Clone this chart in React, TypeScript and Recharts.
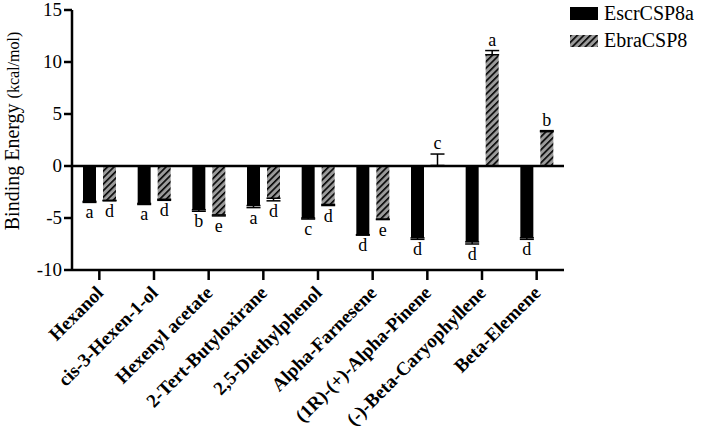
import React from 'react';
import { BarChart, Bar, XAxis, YAxis, ReferenceLine, ErrorBar, LabelList } from 'recharts';

const categories = [
  'Hexanol',
  'cis-3-Hexen-1-ol',
  'Hexenyl acetate',
  '2-Tert-Butyloxirane',
  '2,5-Diethylphenol',
  'Alpha-Farnesene',
  '(1R)-(+)-Alpha-Pinene',
  '(-)-Beta-Caryophyllene',
  'Beta-Elemene',
];
const escrValues = [-3.4, -3.6, -4.2, -3.8, -5.0, -6.6, -6.9, -7.3, -6.9];
const escrErrors = [0.1, 0.1, 0.15, 0.2, 0.1, 0.05, 0.15, 0.2, 0.15];
const escrLetters = ['a', 'a', 'b', 'a', 'c', 'd', 'd', 'd', 'd'];
const ebraValues = [-3.3, -3.2, -4.7, -3.1, -3.7, -5.1, 0.05, 10.7, 3.3];
const ebraErrors = [0.05, 0.1, 0.1, 0.25, 0.1, 0.05, 1.1, 0.4, 0.1];
const ebraLetters = ['d', 'd', 'e', 'd', 'd', 'e', 'c', 'a', 'b'];
const yTicks = [-10, -5, 0, 5, 10, 15];

const FONT = '"Liberation Serif", "Times New Roman", serif';
const Y_MIN = -10;
const Y_MAX = 15;
const PLOT_TOP = 10;
const PLOT_H = 260;
const GRAY = '#9b9b9b';

// error bars only go away from zero, like Prism draws them
const oneSided = (v: number, e: number) => (v < 0 ? [e, 0] : [0, e]);

const data = categories.map((name, i) => ({
  name,
  escr: escrValues[i],
  escrErr: oneSided(escrValues[i], escrErrors[i]),
  escrLetter: escrLetters[i],
  ebra: ebraValues[i],
  ebraErr: oneSided(ebraValues[i], ebraErrors[i]),
  ebraLetter: ebraLetters[i],
}));

const pxPerUnit = PLOT_H / (Y_MAX - Y_MIN);
const yOf = (v: number) => PLOT_TOP + (Y_MAX - v) * pxPerUnit;

const letterLabel = (values: number[], errors: number[]) => (props: any) => {
  const { x, width, index, value } = props;
  const v = values[index];
  const end = yOf(v + (v < 0 ? -errors[index] : errors[index]));
  const ty = v < 0 ? end + 16 : end - 5;
  return (
    <text x={x + width / 2} y={ty} textAnchor="middle" fontFamily={FONT} fontSize={18} fill="#000">
      {value}
    </text>
  );
};

const CategoryTick = (props: any) => {
  const { x, y, payload } = props;
  return (
    <g transform={`translate(${x + 5},${y + 12}) rotate(-45)`}>
      <text x={0} y={0} textAnchor="end" fontFamily={FONT} fontWeight="bold" fontSize={19} fill="#000">
        {payload.value}
      </text>
    </g>
  );
};

const ValueTick = (props: any) => {
  const { x, y, payload } = props;
  return (
    <text x={x} y={y} dy={6} textAnchor="end" fontFamily={FONT} fontSize={19} fill="#000">
      {payload.value}
    </text>
  );
};

const YTitle = () => (
  <text transform="translate(19,131) rotate(-90)" textAnchor="middle" fontFamily={FONT} fill="#000">
    <tspan fontSize={20}>Binding Energy </tspan>
    <tspan fontSize={16}>(kcal/mol)</tspan>
  </text>
);

const HatchDefs = ({ id }: { id: string }) => (
  <defs>
    <pattern id={id} patternUnits="userSpaceOnUse" width={4.6} height={4.6} patternTransform="rotate(45)">
      <rect width={4.6} height={4.6} fill={GRAY} />
      <line x1={0} y1={0} x2={0} y2={4.6} stroke="#000" strokeWidth={3.2} />
    </pattern>
  </defs>
);

const LegendBox = () => (
  <div style={{ position: 'absolute', left: 570, top: 0, fontFamily: FONT, fontSize: 20, color: '#000', lineHeight: '27px' }}>
    <div style={{ display: 'flex', alignItems: 'center', height: 27 }}>
      <svg width={28} height={13} style={{ marginRight: 6 }}>
        <rect width={28} height={13} fill="#000" />
      </svg>
      EscrCSP8a
    </div>
    <div style={{ display: 'flex', alignItems: 'center', height: 27 }}>
      <svg width={28} height={12} style={{ marginRight: 6 }}>
        <HatchDefs id="hatch-legend" />
        <rect width={28} height={12} fill="url(#hatch-legend)" />
      </svg>
      EbraCSP8
    </div>
  </div>
);

export default function App() {
  return (
    <div style={{ position: 'absolute', left: 0, top: 0, width: 702, height: 436, background: '#fff' }}>
      <BarChart
        width={702}
        height={436}
        data={data}
        margin={{ top: PLOT_TOP, right: 138, bottom: 6, left: 0 }}
        barSize={13}
        barGap={7}
      >
        <HatchDefs id="hatch" />
        <XAxis
          dataKey="name"
          interval={0}
          height={160}
          tick={<CategoryTick />}
          tickSize={10}
          axisLine={{ stroke: '#000', strokeWidth: 2.5 }}
          tickLine={{ stroke: '#000', strokeWidth: 2.5 }}
        />
        <YAxis
          width={72}
          domain={[Y_MIN, Y_MAX]}
          ticks={yTicks}
          interval={0}
          tickSize={8}
          axisLine={{ stroke: '#000', strokeWidth: 2.5 }}
          tickLine={{ stroke: '#000', strokeWidth: 2.5 }}
          tick={<ValueTick />}
          label={{ content: <YTitle /> }}
        />
        <ReferenceLine y={0} stroke="#000" strokeWidth={2.5} />
        <Bar dataKey="escr" name="EscrCSP8a" fill="#000" isAnimationActive={false}>
          <ErrorBar dataKey="escrErr" width={7} stroke="#000" strokeWidth={1.5} direction="y" />
          <LabelList dataKey="escrLetter" content={letterLabel(escrValues, escrErrors)} />
        </Bar>
        <Bar dataKey="ebra" name="EbraCSP8" fill="url(#hatch)" isAnimationActive={false}>
          <ErrorBar dataKey="ebraErr" width={7} stroke="#000" strokeWidth={1.5} direction="y" />
          <LabelList dataKey="ebraLetter" content={letterLabel(ebraValues, ebraErrors)} />
        </Bar>
      </BarChart>
      <LegendBox />
    </div>
  );
}
